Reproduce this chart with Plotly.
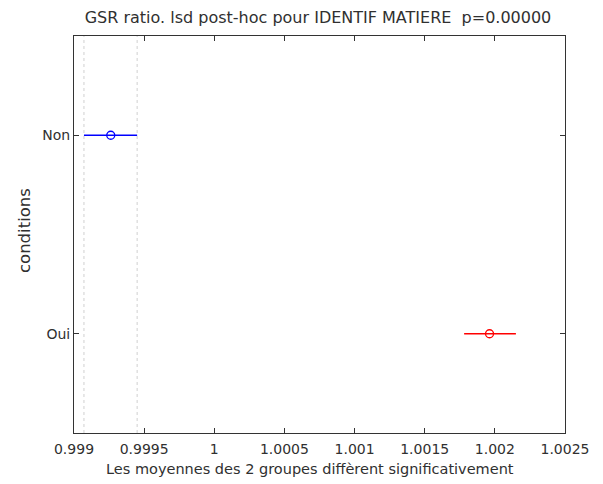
import plotly.graph_objects as go

groups = ["Non", "Oui"]
group_pos = [1, 2]
means = [0.999262, 1.001962]
lower = [0.999071, 1.001781]
upper = [0.999450, 1.002150]
colors = ["#0000ff", "#ff0000"]

x_ticks = [0.999, 0.9995, 1.0, 1.0005, 1.001, 1.0015, 1.002, 1.0025]
x_ticklabels = ["0.999", "0.9995", "1", "1.0005", "1.001", "1.0015", "1.002", "1.0025"]

title_text = "GSR ratio. lsd post-hoc pour IDENTIF MATIERE  p=0.00000"
x_label = "Les moyennes des 2 groupes diffèrent significativement"
y_label = "conditions"

fig = go.Figure()
for g, y, m, lo, hi, c in zip(groups, group_pos, means, lower, upper, colors):
    fig.add_trace(go.Scatter(x=[lo, hi], y=[y, y], mode="lines",
                             line=dict(color=c, width=1.3), showlegend=False, hoverinfo="skip"))
    fig.add_trace(go.Scatter(x=[m], y=[y], mode="markers",
                             marker=dict(symbol="circle-open", size=8, color=c, line=dict(width=1.3, color=c)),
                             showlegend=False, name=g))

# dotted reference lines at the bounds of the first group's interval
for xv in (lower[0], upper[0]):
    fig.add_shape(type="line", x0=xv, x1=xv, y0=0, y1=1, xref="x", yref="paper",
                  line=dict(color="#d0d0d0", width=1, dash="dot"), layer="below")

fam = "DejaVu Sans, Liberation Sans, sans-serif"
font = dict(family=fam, size=14, color="#303030")

L, R, T, B = 74, 38, 36, 51
W, H = 603, 484
pw, ph = W - L - R, H - T - B

fig.update_layout(
    width=W, height=H,
    margin=dict(l=L, r=R, t=T, b=B),
    paper_bgcolor="white", plot_bgcolor="white",
    font=font,
    title=dict(text=title_text, x=318 / W, xanchor="center", y=1 - 17 / H, yanchor="middle",
               font=dict(family=fam, size=16, color="#303030")),
    xaxis=dict(range=[0.999, 1.0025], tickvals=x_ticks, ticktext=x_ticklabels,
               ticks="inside", ticklen=5, tickcolor="#333333", mirror="allticks",
               ticklabelstandoff=3,
               showline=True, linecolor="#333333", linewidth=1, showgrid=False, zeroline=False),
    yaxis=dict(range=[2.5, 0.5], tickvals=group_pos, ticktext=groups,
               ticks="inside", ticklen=5, tickcolor="#333333", mirror="allticks",
               showline=True, linecolor="#333333", linewidth=1, showgrid=False, zeroline=False),
    annotations=[
        dict(text=x_label, xref="paper", yref="paper", x=(310 - L) / pw, y=-(469 - T - ph) / ph,
             xanchor="center", yanchor="middle", showarrow=False, font=dict(family=fam, size=14.5, color="#303030")),
        dict(text=y_label, xref="paper", yref="paper", x=(24 - L) / pw, y=1 - (231 - T) / ph,
             xanchor="center", yanchor="middle", textangle=-90, showarrow=False,
             font=dict(family=fam, size=16.5, color="#303030")),
    ],
)

fig.write_html("out.html")
